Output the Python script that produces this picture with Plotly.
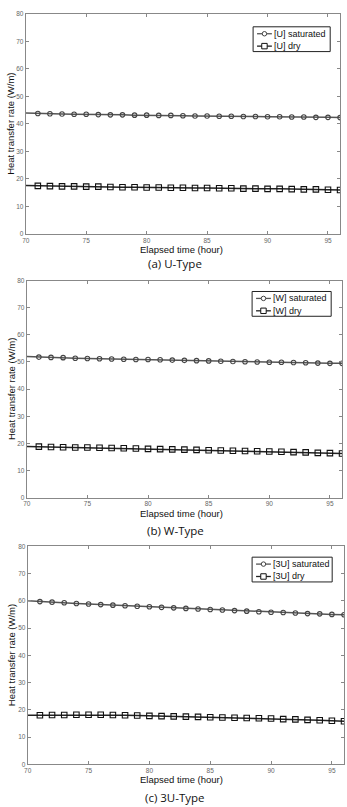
import plotly.graph_objects as go

hours = list(range(70, 97))
x_ticks = [70, 75, 80, 85, 90, 95]
y_ticks = [0, 10, 20, 30, 40, 50, 60, 70, 80]

u_sat = [44.0, 43.8, 43.7, 43.6, 43.5, 43.5, 43.4, 43.3, 43.3, 43.2, 43.2, 43.1, 43.1, 43.0,
         42.9, 42.9, 42.8, 42.8, 42.7, 42.7, 42.6, 42.6, 42.5, 42.5, 42.4, 42.4, 42.3]
u_dry = [17.6, 17.5, 17.4, 17.3, 17.3, 17.2, 17.2, 17.1, 17.0, 17.0, 16.9, 16.9, 16.8, 16.8,
         16.7, 16.7, 16.6, 16.6, 16.5, 16.5, 16.4, 16.4, 16.3, 16.2, 16.2, 16.1, 16.0]
w_sat = [52.0, 51.8, 51.7, 51.6, 51.4, 51.3, 51.2, 51.1, 51.0, 50.9, 50.9, 50.8, 50.7, 50.6,
         50.5, 50.4, 50.3, 50.2, 50.1, 50.0, 49.9, 49.9, 49.8, 49.7, 49.6, 49.5, 49.5]
w_dry = [18.9, 18.8, 18.7, 18.6, 18.5, 18.5, 18.4, 18.3, 18.2, 18.1, 18.0, 17.9, 17.8, 17.7,
         17.6, 17.5, 17.4, 17.3, 17.2, 17.1, 17.0, 16.9, 16.8, 16.7, 16.5, 16.4, 16.3]
u3_sat = [60.0, 59.7, 59.5, 59.3, 59.0, 58.8, 58.6, 58.4, 58.2, 58.0, 57.8, 57.6, 57.4, 57.2,
          57.0, 56.8, 56.6, 56.4, 56.2, 56.0, 55.8, 55.7, 55.5, 55.3, 55.2, 55.0, 54.9]
u3_dry = [18.0, 18.0, 18.1, 18.1, 18.2, 18.2, 18.2, 18.1, 18.0, 17.9, 17.8, 17.7, 17.6, 17.5,
          17.4, 17.3, 17.2, 17.1, 17.0, 16.9, 16.8, 16.6, 16.5, 16.3, 16.2, 16.0, 15.8]

panels = [
    ("[U]", u_sat, u_dry, "(a) U-Type"),
    ("[W]", w_sat, w_dry, "(b) W-Type"),
    ("[3U]", u3_sat, u3_dry, "(c) 3U-Type"),
]
x_title = "Elapsed time (hour)"
y_title = "Heat transfer rate (W/m)"

W, H = 347, 807
# pixel boxes: left, right, top, bottom
boxes = [(22, 340, 10, 232), (23, 342, 279, 498), (24, 344, 547, 767)]
legend_boxes = [(252, 330, 23, 48), (251, 331, 290, 315), (251, 332, 558, 583)]
caption_gap = [30, 33, 33]


def px(x):
    return x / W


def py(y):
    return 1 - y / H


fig = go.Figure()
layout = dict(width=W, height=H, margin=dict(l=0, r=0, t=0, b=0),
              paper_bgcolor="white", plot_bgcolor="white", showlegend=False,
              font=dict(family="Liberation Sans, Arial", color="#111"))

annotations = []
shapes = []
styles = [("saturated", "#555", "circle-open", 4.5, "#444", "circle"),
          ("dry", "#222", "square-open", 5.5, "#111", "rect")]

for i, (name, sat, dry, cap) in enumerate(panels):
    n = "" if i == 0 else str(i + 1)
    xa, ya = "x" + n, "y" + n
    l, r, t, b = boxes[i]
    for vals, (suffix, lcol, sym, msize, mcol, _) in zip([sat, dry], styles):
        fig.add_trace(go.Scatter(x=hours, y=vals, xaxis=xa, yaxis=ya,
                                 showlegend=False, mode="lines", hoverinfo="skip",
                                 line=dict(color=lcol, width=1.5)))
        fig.add_trace(go.Scatter(x=hours[1:], y=vals[1:], xaxis=xa, yaxis=ya,
                                 name=name + " " + suffix, mode="markers",
                                 marker=dict(symbol=sym, size=msize, color=mcol,
                                             line=dict(width=1.1))))
    axcommon = dict(showline=True, linecolor="#888", linewidth=1, mirror="ticks",
                    ticks="inside", ticklen=3, tickcolor="#888", showgrid=False,
                    zeroline=False, tickfont=dict(size=6.5, color="#666"))
    layout["xaxis" + n] = dict(domain=[l / W, r / W], anchor=ya, range=[70, 96],
                               tickvals=x_ticks, **axcommon)
    layout["yaxis" + n] = dict(domain=[1 - b / H, 1 - t / H], anchor=xa, range=[0, 80],
                               tickvals=y_ticks, **axcommon)

    # axis titles
    annotations.append(dict(text=x_title, x=px(180), y=py(b + 15.5), xref="paper", yref="paper",
                            showarrow=False, xanchor="center", yanchor="middle",
                            font=dict(size=9.5, color="#111")))
    annotations.append(dict(text=y_title, x=px(7), y=py((t + b) / 2), xref="paper",
                            yref="paper", showarrow=False, textangle=-90,
                            xanchor="center", yanchor="middle",
                            font=dict(size=9.5, color="#111")))

    # compact MATLAB-style legend box
    lx0, lx1, ly0, ly1 = legend_boxes[i]
    shapes.append(dict(type="rect", xref="paper", yref="paper",
                       x0=px(lx0), x1=px(lx1), y0=py(ly1), y1=py(ly0),
                       line=dict(color="#222", width=1), fillcolor="white"))
    for k, (suffix, lcol, sym, msize, mcol, shp) in enumerate(styles):
        ry = ly0 + 7 + k * 12.5
        sx0, sx1 = lx0 + 4, lx0 + 19
        sxm = (sx0 + sx1) / 2
        shapes.append(dict(type="line", xref="paper", yref="paper",
                           x0=px(sx0), x1=px(sx1), y0=py(ry), y1=py(ry),
                           line=dict(color=lcol, width=1.3)))
        hs = msize / 2
        shapes.append(dict(type=shp, xref="paper", yref="paper",
                           x0=px(sxm - hs), x1=px(sxm + hs), y0=py(ry + hs), y1=py(ry - hs),
                           line=dict(color=mcol, width=1), fillcolor="white"))
        annotations.append(dict(text=name + " " + suffix, x=px(sx1), y=py(ry),
                                xref="paper", yref="paper", showarrow=False,
                                xanchor="left", yanchor="middle",
                                font=dict(size=9, color="#111")))

    annotations.append(dict(text=cap, x=px(173), y=py(b + caption_gap[i]), xref="paper",
                            yref="paper", showarrow=False, xanchor="center", yanchor="middle",
                            font=dict(family="Open Sans, Noto Sans", size=11.5, color="#111")))

layout["annotations"] = annotations
layout["shapes"] = shapes
fig.update_layout(**layout)
fig.write_html("out.html")
